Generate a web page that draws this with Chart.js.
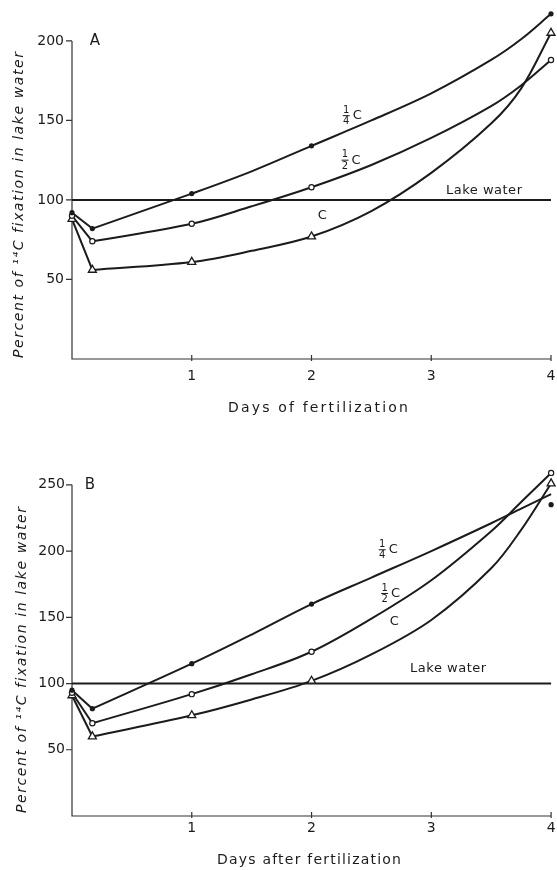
<!DOCTYPE html>
<html>
<head>
<meta charset="utf-8">
<title>Percent of 14C fixation in lake water</title>
<script src="https://cdn.jsdelivr.net/npm/chart.js@4.4.1/dist/chart.umd.min.js"></script>
<style>
  body { margin: 0; background: #fff; }
  canvas { display: block; }
</style>
</head>
<body>
<canvas id="chartA" width="557" height="430"></canvas>
<canvas id="chartB" width="557" height="440"></canvas>
<script>
// measured points (markers), panel A
const markDays = [0, 0.17, 1, 2, 4];
const quarterMarksA = [92, 82, 104, 134, 217];
const halfMarksA = [90, 74, 85, 108, 188];
const fullMarksA = [88, 56, 61, 77, 205];

const curveDays = [0.17, 1, 1.5, 2, 2.5, 3, 3.5, 3.75, 4];
const quarterCurveA = [82, 104, 118, 134, 150, 167, 188, 201, 217];
const halfCurveA = [74, 85, 96, 108, 122, 139, 159, 172, 188];
const fullCurveA = [56, 61, 68, 77, 93, 117, 148, 170, 205];

// panel B
const quarterMarksB = [95, 81, 115, 160, 235];
const halfMarksB = [93, 70, 92, 124, 259];
const fullMarksB = [91, 60, 76, 102, 251];

const quarterCurveB = [81, 115, 137, 160, 180, 200, 221, 232, 243];
const halfCurveB = [70, 92, 107, 124, 149, 178, 215, 237, 259];
const fullCurveB = [60, 76, 88, 102, 122, 148, 187, 216, 251];

const lakeDays = [0, 4];
const lakeWater = [100, 100];

const dayTicks = [1, 2, 3, 4];
const yTicksA = [50, 100, 150, 200];
const yTicksB = [50, 100, 150, 200, 250];

const INK = '#1b1b1b';
const FONT = 'DejaVu Sans';

const pts = (days, vals) => days.map((d, i) => ({ x: d, y: vals[i] }));

function markSet(vals, kind) {
  const base = { data: pts(markDays, vals), showLine: false, clip: false, borderColor: INK };
  if (kind === 'dot') return { ...base, pointStyle: 'circle', pointRadius: 2.6, backgroundColor: INK, borderWidth: 0 };
  if (kind === 'ring') return { ...base, pointStyle: 'circle', pointRadius: 2.6, backgroundColor: '#fff', borderWidth: 1.2 };
  return { ...base, pointStyle: 'triangle', pointRadius: 4.6, backgroundColor: '#fff', borderWidth: 1.3 };
}

function curveSet(vals) {
  return { data: pts(curveDays, vals), borderColor: INK, borderWidth: 2, pointRadius: 0,
    tension: 0.35, fill: false, clip: false };
}

// the first fall from day 0 to the minimum is a straight segment
function dropSet(marks) {
  return { data: pts(markDays.slice(0, 2), marks.slice(0, 2)), borderColor: INK, borderWidth: 2,
    pointRadius: 0, tension: 0, fill: false, clip: false };
}

function spacedText(ctx, text, cx, cy, width) {
  ctx.letterSpacing = '0px';
  const w = ctx.measureText(text).width;
  const extra = (width - w) / Math.max(text.length - 1, 1);
  ctx.letterSpacing = extra.toFixed(2) + 'px';
  ctx.textAlign = 'left';
  ctx.fillText(text, cx - width / 2, cy);
  ctx.letterSpacing = '0px';
}

// no automatic room for overhanging tick labels: the plot area is set by layout padding only
function noScalePadding(s) {
  s.paddingLeft = 0;
  s.paddingRight = 0;
  s.paddingTop = 0;
  s.paddingBottom = 0;
}

const frame = {
  id: 'frame',
  beforeDatasetsDraw(chart, args, o) {
    const { ctx, scales: { x, y } } = chart;
    const x0 = x.getPixelForValue(0), x4 = x.getPixelForValue(4);
    const y0 = y.getPixelForValue(0), yTop = y.getPixelForValue(o.yTicks[o.yTicks.length - 1]);
    ctx.save();
    ctx.strokeStyle = '#333';
    ctx.lineWidth = 1.2;
    ctx.beginPath();
    ctx.moveTo(x0, yTop);
    ctx.lineTo(x0, y0);
    ctx.lineTo(x4, y0);
    o.yTicks.forEach(v => {
      const py = y.getPixelForValue(v);
      ctx.moveTo(x0 - 6, py);
      ctx.lineTo(x0, py);
    });
    dayTicks.forEach(d => {
      const px = x.getPixelForValue(d);
      ctx.moveTo(px, y0 - 4);
      ctx.lineTo(px, y0 + 2);
    });
    ctx.stroke();
    ctx.restore();
  },
  afterDatasetsDraw(chart, args, o) {
    const { ctx, scales: { x, y } } = chart;
    ctx.save();
    ctx.fillStyle = INK;
    ctx.strokeStyle = INK;
    ctx.textBaseline = 'middle';

    // panel letter
    ctx.font = `15px ${FONT}`;
    ctx.textAlign = 'center';
    ctx.fillText(o.letter, x.getPixelForValue(0) + o.letterDx, y.getPixelForValue(o.yTicks[o.yTicks.length - 1]));

    // y title
    ctx.save();
    ctx.translate(o.yTitle.x, o.yTitle.y);
    ctx.rotate(-Math.PI / 2);
    ctx.font = `italic 14px ${FONT}`;
    spacedText(ctx, 'Percent of ¹⁴C fixation in lake water', 0, 0, o.yTitle.w);
    ctx.restore();

    // x title
    ctx.font = `14px ${FONT}`;
    spacedText(ctx, o.xTitle.text, o.xTitle.x, o.xTitle.y, o.xTitle.w);

    // curve labels
    o.curveLabels.forEach(l => {
      const px = x.getPixelForValue(l.day), py = y.getPixelForValue(l.value);
      ctx.textAlign = 'center';
      if (l.frac) {
        ctx.font = `10px ${FONT}`;
        ctx.fillText(l.frac[0], px, py - 5.5);
        ctx.fillText(l.frac[1], px, py + 6);
        ctx.lineWidth = 1;
        ctx.beginPath();
        ctx.moveTo(px - 3.5, py);
        ctx.lineTo(px + 3.5, py);
        ctx.stroke();
        ctx.font = `13px ${FONT}`;
        ctx.fillText('C', px + 11, py);
      } else {
        ctx.font = `13px ${FONT}`;
        ctx.fillText('C', px, py);
      }
    });

    ctx.font = `13px ${FONT}`;
    spacedText(ctx, 'Lake water', x.getPixelForValue(o.lake.day), y.getPixelForValue(o.lake.value), 76);
    ctx.restore();
  }
};

function makeChart(id, p) {
  return new Chart(document.getElementById(id), {
    type: 'line',
    data: {
      datasets: [
        markSet(p.quarterMarks, 'dot'),
        markSet(p.halfMarks, 'ring'),
        markSet(p.fullMarks, 'tri'),
        dropSet(p.quarterMarks),
        dropSet(p.halfMarks),
        dropSet(p.fullMarks),
        curveSet(p.quarterCurve),
        curveSet(p.halfCurve),
        curveSet(p.fullCurve),
        { data: pts(lakeDays, lakeWater), borderColor: INK, borderWidth: 2, pointRadius: 0, tension: 0, clip: false }
      ]
    },
    options: {
      responsive: false,
      animation: false,
      layout: { padding: p.padding },
      scales: {
        x: {
          type: 'linear', min: 0, max: 4,
          grid: { display: false, drawTicks: false },
          border: { display: false },
          ticks: { color: INK, font: { family: FONT, size: 14 }, padding: p.xPad, maxRotation: 0 },
          afterBuildTicks: s => { s.ticks = dayTicks.map(v => ({ value: v })); },
          afterFit: s => { s.height = p.xHeight; noScalePadding(s); }
        },
        y: {
          type: 'linear', min: 0, max: p.yMax,
          grid: { display: false, drawTicks: false },
          border: { display: false },
          ticks: { color: INK, font: { family: FONT, size: 14 }, padding: p.yPad },
          afterBuildTicks: s => { s.ticks = p.yTicks.map(v => ({ value: v })); },
          afterFit: s => { s.width = 72; noScalePadding(s); }
        }
      },
      plugins: {
        legend: { display: false },
        tooltip: { enabled: false },
        frame: p.frame
      }
    },
    plugins: [frame]
  });
}

makeChart('chartA', {
  quarterMarks: quarterMarksA, halfMarks: halfMarksA, fullMarks: fullMarksA,
  quarterCurve: quarterCurveA, halfCurve: halfCurveA, fullCurve: fullCurveA,
  padding: { top: 5, right: 6, left: 0, bottom: 0 },
  xHeight: 71, xPad: 9, yPad: 8, yMax: 222, yTicks: yTicksA,
  frame: {
    yTicks: yTicksA, letter: 'A', letterDx: 23,
    yTitle: { x: 19, y: 205, w: 306 },
    xTitle: { text: 'Days of fertilization', x: 318, y: 408, w: 180 },
    curveLabels: [
      { frac: ['1', '4'], day: 2.29, value: 153 },
      { frac: ['1', '2'], day: 2.28, value: 125 },
      { frac: null, day: 2.09, value: 90 }
    ],
    lake: { day: 3.44, value: 106 }
  }
});

makeChart('chartB', {
  quarterMarks: quarterMarksB, halfMarks: halfMarksB, fullMarks: fullMarksB,
  quarterCurve: quarterCurveB, halfCurve: halfCurveB, fullCurve: fullCurveB,
  padding: { top: 31, right: 5, left: 0, bottom: 0 },
  xHeight: 54, xPad: 4, yPad: 7, yMax: 268, yTicks: yTicksB,
  frame: {
    yTicks: yTicksB, letter: 'B', letterDx: 18,
    yTitle: { x: 22, y: 230, w: 306 },
    xTitle: { text: 'Days after fertilization', x: 309, y: 430, w: 184 },
    curveLabels: [
      { frac: ['1', '4'], day: 2.59, value: 201 },
      { frac: ['1', '2'], day: 2.61, value: 168 },
      { frac: null, day: 2.69, value: 146.5 }
    ],
    lake: { day: 3.14, value: 111 }
  }
});
</script>
</body>
</html>
